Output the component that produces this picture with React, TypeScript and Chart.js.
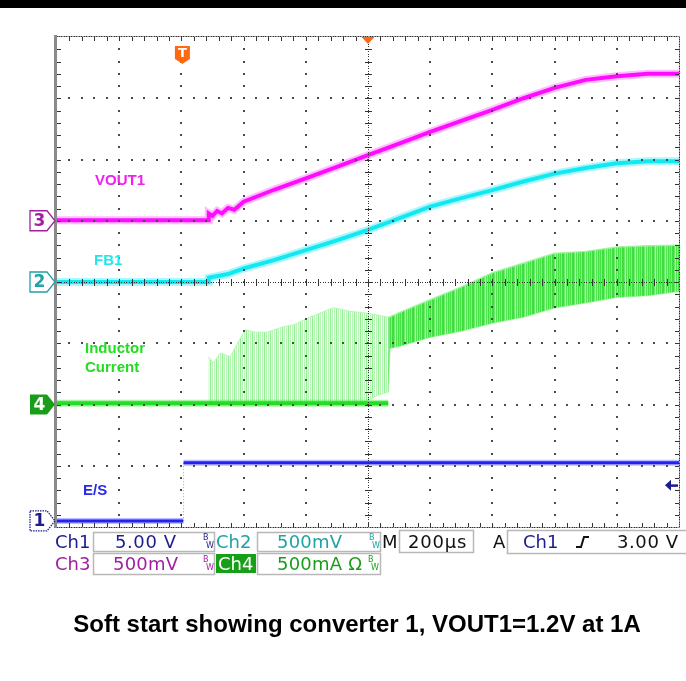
import React, { useEffect, useRef } from "react";
import { Chart, registerables } from "chart.js";

Chart.register(...registerables);

// ---- Screen geometry in scope units ----
const TIME_MIN_US = -400; // trigger at 0 us
const TIME_MAX_US = 1600;
const TIME_PER_DIV_US = 200;
const DIV_MIN = -4;
const DIV_MAX = 4;

// ---- Ch3: VOUT1 (screen divisions) ----
const vout1Time = [-400, 86, 88, 100, 115, 130, 150, 170, 200, 300, 400, 500, 600, 700, 800, 900, 1000, 1100, 1200, 1300, 1400, 1500, 1600];
const vout1Div = [1.01, 1.01, 1.12, 1.08, 1.16, 1.12, 1.21, 1.18, 1.31, 1.51, 1.69, 1.88, 2.07, 2.26, 2.45, 2.63, 2.81, 3.0, 3.17, 3.3, 3.36, 3.4, 3.4];

// ---- Ch2: FB1 ----
const fb1Time = [-400, 86, 88, 150, 200, 300, 400, 500, 600, 700, 800, 900, 1000, 1100, 1200, 1300, 1400, 1500, 1600];
const fb1Div = [0.0, 0.0, 0.07, 0.13, 0.22, 0.36, 0.52, 0.68, 0.85, 1.04, 1.23, 1.37, 1.5, 1.64, 1.77, 1.86, 1.94, 1.97, 1.97];

// ---- Ch1: E/S ----
const esTime = [-400, 6, 7, 1600];
const esDiv = [-3.9, -3.9, -2.95, -2.95];

// ---- Ch4: Inductor current ----
const ilBaseTime = [-400, 665];
const ilBaseDiv = [-1.98, -1.98];
const ilRippleTime = [87, 103, 125, 157, 205, 238, 276, 328, 360, 415, 489, 543, 585, 630, 662, 665];
const ilRippleTop = [-1.22, -1.32, -1.16, -1.22, -0.78, -0.82, -0.82, -0.73, -0.7, -0.57, -0.42, -0.48, -0.5, -0.54, -0.57, -0.57];
const ilRippleBottom = [-1.98, -1.98, -1.98, -1.98, -1.98, -1.98, -1.98, -1.98, -1.98, -1.98, -1.98, -1.98, -1.98, -1.85, -1.8, -1.8];
const ilBandTime = [665, 670, 700, 800, 900, 1000, 1100, 1200, 1300, 1400, 1500, 1600];
const ilBandTop = [-0.57, -0.57, -0.5, -0.29, -0.08, 0.15, 0.31, 0.47, 0.5, 0.57, 0.59, 0.6];
const ilBandBottom = [-1.8, -1.08, -1.05, -0.9, -0.8, -0.67, -0.57, -0.42, -0.34, -0.25, -0.22, -0.15];

// ---- Markers / trigger ----
const markerLabels = ["1", "2", "3", "4"];
const markerLevels = [-3.9, 0.0, 1.0, -2.0];
const TRIGGER_TIME_US = 0;
const TRIGGER_LEVEL_DIV = -3.32;

// ---- Status panel texts ----
const row1 = { ch1: "Ch1", ch1Scale: "5.00 V", ch2: "Ch2", ch2Scale: "500mV", m: "M", timebase: "200µs", a: "A", trigSrc: "Ch1", trigLevel: "3.00 V" };
const row2 = { ch3: "Ch3", ch3Scale: "500mV", ch4: "Ch4", ch4Scale: "500mA Ω" };
const CAPTION = "Soft start showing converter 1, VOUT1=1.2V at 1A";

const NAVY = "#1c1c8e";
const TEAL = "#1ea3a6";
const PURPLE = "#a21ea2";
const GREEN = "#1a9e1a";

const pts = (xs: number[], ys: number[]) => xs.map((x, i) => ({ x, y: ys[i] }));

function stripePattern(colors: string[], widths: number[]) {
  const c = document.createElement("canvas");
  const total = widths.reduce((s, w) => s + w, 0);
  c.width = total;
  c.height = 4;
  const g = c.getContext("2d") as CanvasRenderingContext2D;
  let x = 0;
  colors.forEach((col, i) => {
    g.fillStyle = col;
    g.fillRect(x, 0, widths[i], 4);
    x += widths[i];
  });
  return g.createPattern(c, "repeat");
}

function drawGrid(chart: any) {
  const { ctx, chartArea: a } = chart;
  const xs = chart.scales.x;
  const ys = chart.scales.y;
  const nx = Math.round((TIME_MAX_US - TIME_MIN_US) / TIME_PER_DIV_US);
  const ny = DIV_MAX - DIV_MIN;
  const xMaj = Array.from({ length: nx + 1 }, (_, i) => xs.getPixelForValue(TIME_MIN_US + i * TIME_PER_DIV_US));
  const yMaj = Array.from({ length: ny + 1 }, (_, j) => ys.getPixelForValue(DIV_MAX - j));
  const mx = (xMaj[1] - xMaj[0]) / 5;
  const my = (yMaj[1] - yMaj[0]) / 5;
  const cxi = nx / 2;
  const cyi = ny / 2;
  ctx.save();
  const dot = (px: number, py: number, w = 2, h = 2, c = "#4a4a4a") => {
    ctx.fillStyle = c;
    ctx.fillRect(Math.round(px - w / 2), Math.round(py - h / 2), w, h);
  };
  for (let i = 1; i < nx; i++) {
    if (i === cxi) continue;
    for (let k = 1; k < ny * 5; k++) dot(xMaj[i], yMaj[0] + k * my);
  }
  for (let j = 1; j < ny; j++) {
    if (j === cyi) continue;
    for (let k = 1; k < nx * 5; k++) dot(xMaj[0] + k * mx, yMaj[j]);
  }
  const cx = xMaj[cxi];
  const cy = yMaj[cyi];
  for (let py = a.top; py <= a.bottom; py += my / 5) dot(cx, py, 1, 1, "#333");
  for (let px = a.left; px <= a.right; px += mx / 5) dot(px, cy, 1, 1, "#333");
  ctx.fillStyle = "#333";
  for (let k = 1; k < ny * 5; k++) ctx.fillRect(Math.round(cx - 3), Math.round(yMaj[0] + k * my), 7, 1);
  for (let k = 1; k < nx * 5; k++) ctx.fillRect(Math.round(xMaj[0] + k * mx), Math.round(cy - 3), 1, 7);

  // frame
  ctx.fillStyle = "#9a9a9a";
  ctx.fillRect(Math.round(a.left), Math.round(a.top) - 1, Math.round(a.right - a.left), 1);
  ctx.fillRect(Math.round(a.left), Math.round(a.bottom), Math.round(a.right - a.left), 1);
  ctx.fillRect(Math.round(a.right), Math.round(a.top) - 1, 1, Math.round(a.bottom - a.top) + 2);
  for (let px = a.left; px <= a.right; px += mx / 5) {
    dot(px, a.top - 1, 1, 1, "#333");
    dot(px, a.bottom, 1, 1, "#333");
  }
  for (let py = a.top; py <= a.bottom; py += my / 5) dot(a.right, py, 1, 1, "#333");
  ctx.fillStyle = "#333";
  for (let k = 1; k < nx * 5; k++) {
    const px = Math.round(xMaj[0] + k * mx);
    ctx.fillRect(px, Math.round(a.top), 1, 4);
    ctx.fillRect(px, Math.round(a.bottom) - 4, 1, 4);
  }
  for (let k = 1; k < ny * 5; k++) {
    const py = Math.round(yMaj[0] + k * my);
    ctx.fillRect(Math.round(a.right) - 4, py, 4, 1);
    ctx.fillRect(Math.round(a.left), py, 4, 1);
  }
  ctx.fillStyle = "#8a8a8a";
  ctx.fillRect(Math.round(a.left) - 3, Math.round(a.top) - 2, 3, Math.round(a.bottom - a.top) + 3);
  ctx.restore();
}

function drawMarkers(chart: any) {
  const { ctx, chartArea: a } = chart;
  const ys = chart.scales.y;
  const xs = chart.scales.x;
  const colors = [NAVY, TEAL, PURPLE, GREEN];
  ctx.save();
  markerLabels.forEach((lab, i) => {
    const y = ys.getPixelForValue(markerLevels[i]);
    const l = a.left - 27;
    const r = a.left - 10;
    const tip = a.left - 2;
    const h = 10;
    ctx.beginPath();
    ctx.moveTo(l, y - h);
    ctx.lineTo(r, y - h);
    ctx.lineTo(tip, y);
    ctx.lineTo(r, y + h);
    ctx.lineTo(l, y + h);
    ctx.closePath();
    const filled = lab === "4";
    if (filled) {
      ctx.fillStyle = colors[i];
      ctx.fill();
    } else {
      ctx.fillStyle = "#fff";
      ctx.fill();
      ctx.strokeStyle = colors[i];
      ctx.lineWidth = 1.3;
      if (lab === "1") ctx.setLineDash([1.5, 1]);
      ctx.stroke();
      ctx.setLineDash([]);
    }
    ctx.font = 'bold 17px "DejaVu Sans"';
    ctx.textAlign = "center";
    ctx.textBaseline = "middle";
    ctx.fillStyle = filled ? "#fff" : colors[i];
    ctx.fillText(lab, (l + r) / 2 + 1, y + 1);
  });

  // trigger position "T"
  const tx = xs.getPixelForValue(TRIGGER_TIME_US) + 1;
  ctx.fillStyle = "#ff6a10";
  ctx.beginPath();
  ctx.moveTo(tx - 7.5, a.top + 9);
  ctx.lineTo(tx + 7.5, a.top + 9);
  ctx.lineTo(tx + 7.5, a.top + 22);
  ctx.quadraticCurveTo(tx + 4, a.top + 24, tx, a.top + 27);
  ctx.quadraticCurveTo(tx - 4, a.top + 24, tx - 7.5, a.top + 22);
  ctx.closePath();
  ctx.fill();
  ctx.fillStyle = "#fff";
  ctx.font = 'bold 13px "DejaVu Sans"';
  ctx.textAlign = "center";
  ctx.textBaseline = "middle";
  ctx.fillText("T", tx, a.top + 16.5);

  // horizontal position marker (top centre)
  const mxp = xs.getPixelForValue((TIME_MIN_US + TIME_MAX_US) / 2);
  ctx.fillStyle = "#ff6a10";
  ctx.beginPath();
  ctx.moveTo(mxp - 6.5, a.top);
  ctx.lineTo(mxp + 6.5, a.top);
  ctx.lineTo(mxp, a.top + 7);
  ctx.closePath();
  ctx.fill();

  // trigger level arrow (right)
  const ty = ys.getPixelForValue(TRIGGER_LEVEL_DIV);
  ctx.fillStyle = NAVY;
  ctx.fillRect(a.right - 10, ty - 1, 9, 2.5);
  ctx.beginPath();
  ctx.moveTo(a.right - 14, ty);
  ctx.lineTo(a.right - 8, ty - 5.5);
  ctx.lineTo(a.right - 8, ty + 5.5);
  ctx.closePath();
  ctx.fill();
  ctx.restore();
}

function drawLabels(chart: any) {
  const { ctx, chartArea: a } = chart;
  ctx.save();
  ctx.font = 'bold 15px "Liberation Sans"';
  ctx.textAlign = "left";
  ctx.textBaseline = "alphabetic";
  ctx.fillStyle = "#f020f0";
  ctx.fillText("VOUT1", a.left + 38, 185);
  ctx.fillStyle = "#22e6ee";
  ctx.fillText("FB1", a.left + 37, 265);
  ctx.fillStyle = "#22dd22";
  ctx.fillText("Inductor", a.left + 28, 353);
  ctx.fillText("Current", a.left + 28, 372);
  ctx.fillStyle = "#2a2ae4";
  ctx.fillText("E/S", a.left + 26, 495);
  ctx.restore();
}

function drawStatus(chart: any) {
  const { ctx, chartArea: a } = chart;
  const top = Math.round(a.bottom);
  const b1 = top + 21;
  const b2 = top + 43;
  ctx.save();
  ctx.textAlign = "left";
  ctx.textBaseline = "alphabetic";
  const setLS = (v: string) => {
    if ("letterSpacing" in ctx) (ctx as any).letterSpacing = v;
  };
  const text = (t: string, x: number, y: number, color: string, ls = "0px") => {
    ctx.font = '18px "DejaVu Sans"';
    setLS(ls);
    ctx.fillStyle = color;
    ctx.fillText(t, x, y);
    setLS("0px");
  };
  const box = (x0: number, y0: number, x1: number, y1: number) => {
    ctx.strokeStyle = "#b8b8b8";
    ctx.lineWidth = 1.5;
    ctx.strokeRect(x0 + 0.5, y0 + 0.5, x1 - x0, y1 - y0);
  };
  const bw = (x: number, y0: number, color: string) => {
    ctx.font = '8px "DejaVu Sans"';
    ctx.fillStyle = color;
    ctx.fillText("B", x, y0 + 8);
    ctx.fillText("W", x + 3, y0 + 16);
  };
  // row 1
  text(row1.ch1, 55, b1, NAVY);
  box(93, top + 5, 214, top + 24);
  text(row1.ch1Scale, 115, b1, NAVY, "0.6px");
  bw(203, top + 5, NAVY);
  text(row1.ch2, 216, b1, TEAL);
  box(257, top + 5, 380, top + 24);
  text(row1.ch2Scale, 277, b1, TEAL, "0.2px");
  bw(369, top + 5, TEAL);
  text(row1.m, 382, b1, "#111");
  box(399, top + 3, 473, top + 25);
  text(row1.timebase, 408, b1, "#111", "0.8px");
  text(row1.a, 493, b1, "#111");
  box(507, top + 3, 690, top + 26);
  text(row1.trigSrc, 523, b1, NAVY);
  ctx.strokeStyle = "#111";
  ctx.lineWidth = 2;
  ctx.beginPath();
  ctx.moveTo(576, b1 - 1);
  ctx.lineTo(581, b1 - 1);
  ctx.lineTo(584, b1 - 11);
  ctx.lineTo(589, b1 - 11);
  ctx.stroke();
  text(row1.trigLevel, 617, b1, "#111", "0.6px");
  // row 2
  text(row2.ch3, 55, b2, PURPLE);
  box(93, top + 26, 214, top + 47);
  text(row2.ch3Scale, 113, b2, PURPLE, "0.2px");
  bw(203, top + 27, PURPLE);
  ctx.fillStyle = "#17a017";
  ctx.fillRect(216, top + 27, 40, 19);
  text(row2.ch4, 218, b2, "#ffffff");
  box(257, top + 26, 380, top + 47);
  text(row2.ch4Scale, 277, b2, GREEN, "0.2px");
  bw(368, top + 27, GREEN);

  // caption
  ctx.font = 'bold 24px "Liberation Sans"';
  ctx.textAlign = "center";
  ctx.fillStyle = "#000";
  ctx.fillText(CAPTION, 357, 632);
  ctx.restore();
}

const scopePlugin = {
  id: "scopeScreen",
  beforeDraw(chart: any) {
    const ctx = chart.ctx;
    ctx.save();
    ctx.fillStyle = "#fff";
    ctx.fillRect(0, 0, chart.width, chart.height);
    ctx.fillStyle = "#000";
    ctx.fillRect(0, 0, chart.width, 8);
    ctx.restore();
  },
  afterDatasetsDraw(chart: any) {
    drawGrid(chart);
    drawMarkers(chart);
    drawLabels(chart);
  },
  afterDraw(chart: any) {
    drawStatus(chart);
  },
};

export default function App() {
  const ref = useRef<HTMLCanvasElement>(null);
  useEffect(() => {
    const esEdge = (ctx: any) => ctx.p0DataIndex === 1;
    const densePattern = stripePattern(
      ["#48e248", "#86ee86", "#3ddd3d", "#6ae86a", "#b0f4b0", "#52e452", "#92f092", "#44e044", "#74ea74"],
      [1, 1, 2, 1, 1, 1, 1, 1, 1]
    );
    const sparsePattern = stripePattern(
      ["rgba(120,236,120,0.8)", "rgba(200,248,200,0.5)", "rgba(160,243,160,0.75)", "rgba(255,255,255,0)", "rgba(140,240,140,0.6)", "rgba(210,250,210,0.5)"],
      [1, 1, 1, 1, 1, 1]
    );
    const chart = new Chart(ref.current as HTMLCanvasElement, {
      type: "line",
      data: {
        datasets: [
          { label: "VOUT1", data: pts(vout1Time, vout1Div), borderColor: "#ff0cff", borderWidth: 4 },
          { label: "VOUT1 noise", data: pts(vout1Time, vout1Div), borderColor: "rgba(255,110,255,0.45)", borderWidth: 8 },
          { label: "FB1", data: pts(fb1Time, fb1Div), borderColor: "#12e8f2", borderWidth: 4 },
          { label: "FB1 noise", data: pts(fb1Time, fb1Div), borderColor: "rgba(70,238,248,0.45)", borderWidth: 8 },
          {
            label: "E/S",
            data: pts(esTime, esDiv),
            borderColor: "#2222ee",
            borderWidth: 3,
            segment: {
              borderWidth: (c: any) => (esEdge(c) ? 1 : undefined),
              borderColor: (c: any) => (esEdge(c) ? "rgba(110,110,255,0.7)" : undefined),
              borderDash: (c: any) => (esEdge(c) ? [1, 2] : undefined),
            },
          },
          {
            label: "E/S noise",
            data: pts(esTime, esDiv),
            borderColor: "rgba(60,60,255,0.35)",
            borderWidth: 6,
            segment: { borderColor: (c: any) => (esEdge(c) ? "rgba(0,0,0,0)" : undefined) },
          },
          { label: "IL", data: pts(ilBaseTime, ilBaseDiv), borderColor: "#22dd22", borderWidth: 4 },
          { label: "IL noise", data: pts(ilBaseTime, ilBaseDiv), borderColor: "rgba(60,230,60,0.45)", borderWidth: 7 },
          {
            label: "IL band top",
            data: pts(ilBandTime, ilBandTop),
            borderColor: "rgba(160,244,160,0.9)",
            borderWidth: 1.5,
            fill: "+1",
            backgroundColor: densePattern,
          },
          { label: "IL band bottom", data: pts(ilBandTime, ilBandBottom), borderColor: "rgba(160,244,160,0.9)", borderWidth: 1.5 },
          {
            label: "IL ripple top",
            data: pts(ilRippleTime, ilRippleTop),
            borderColor: "rgba(170,244,170,0.8)",
            borderWidth: 1,
            fill: "+1",
            backgroundColor: sparsePattern,
          },
          { label: "IL ripple bottom", data: pts(ilRippleTime, ilRippleBottom), borderColor: "rgba(140,240,140,0.6)", borderWidth: 1 },
        ],
      },
      options: {
        animation: false,
        responsive: false,
        events: [],
        layout: { padding: { left: 57, top: 37, right: 7, bottom: 154 } },
        scales: {
          x: { type: "linear", min: TIME_MIN_US, max: TIME_MAX_US, display: false },
          y: { type: "linear", min: DIV_MIN, max: DIV_MAX, display: false },
        },
        elements: { point: { radius: 0 }, line: { tension: 0, borderCapStyle: "butt" } },
        plugins: { legend: { display: false }, tooltip: { enabled: false }, title: { display: false } },
      },
      plugins: [scopePlugin],
    } as any);
    return () => chart.destroy();
  }, []);
  return (
    <div style={{ position: "absolute", left: 0, top: 0, width: 686, height: 681, background: "#fff" }}>
      <canvas ref={ref} width={686} height={681} style={{ display: "block", width: 686, height: 681 }} />
    </div>
  );
}
